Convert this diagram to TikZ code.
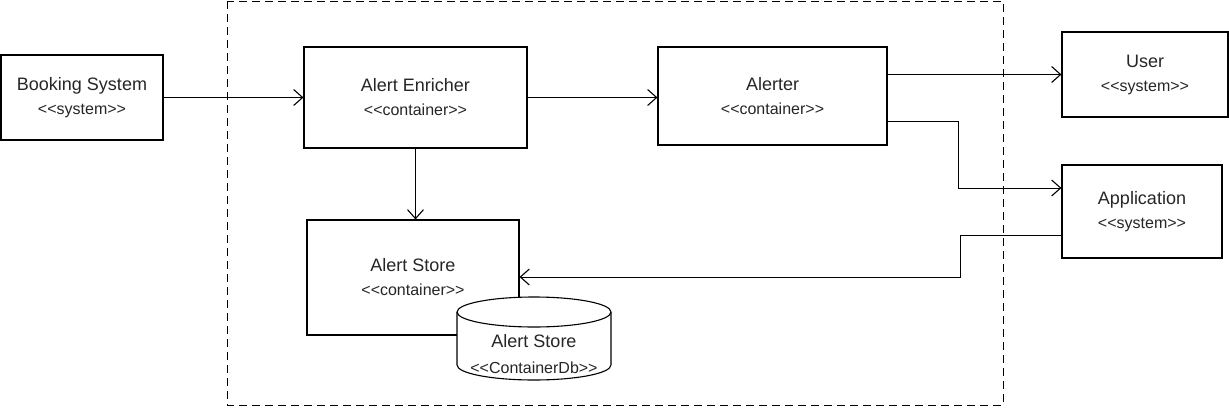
\documentclass[tikz,border=0pt]{standalone}
\usepackage{fontspec}
\setmainfont{Liberation Sans}
\usetikzlibrary{arrows.meta}
\newcommand{\stereo}[1]{{\fontsize{16}{24}\selectfont <\kern0pt<#1>\kern0pt>}}
\begin{document}
\begin{tikzpicture}[x=1pt,y=-1pt,
  box/.style={draw=black, line width=1.1pt, fill=white, rectangle, align=center, inner sep=0pt,
    font=\fontsize{18}{24}\selectfont, text=black!85},
  arr/.style={draw=black, line width=1pt, -{Straight Barb[length=9pt,width=16pt,line width=1.1pt]}},
  boundary/.style={draw=black, line width=0.9pt, dash pattern=on 8pt off 5pt}]
\useasboundingbox (0,0) rectangle (1229,407);
\draw[boundary] (227,1) rectangle (1003,405);
\node[box, minimum width=162pt, minimum height=85pt] (bs) at (82,97.5) {Booking System\\\stereo{system}};
\node[box, minimum width=223pt, minimum height=101pt] (ae) at (415.5,97.5) {Alert Enricher\\\stereo{container}};
\node[box, minimum width=229pt, minimum height=98pt] (al) at (772.5,96) {Alerter\\\stereo{container}};
\node[box, minimum width=166pt, minimum height=85pt] (us) at (1145,74.5) {User\\\stereo{system}};
\node[box, minimum width=160pt, minimum height=93pt] (ap) at (1142,211.5) {Application\\\stereo{system}};
\node[box, minimum width=212pt, minimum height=115pt] (as) at (413,277.5) {Alert Store\\\stereo{container}};
% database cylinder
\path[draw=black, line width=1.1pt, fill=white] (457,312) -- (457,365)
  arc[start angle=180, end angle=360, x radius=77pt, y radius=15pt] -- (611,312)
  arc[start angle=0, end angle=180, x radius=77pt, y radius=15pt] -- cycle;
\draw[line width=1.1pt] (611,312) arc[start angle=0, end angle=-180, x radius=77pt, y radius=15pt];
\node[align=center, inner sep=0pt, font=\fontsize{18}{26}\selectfont, text=black!85] (db) at (534,354) {Alert Store\\\stereo{ContainerDb}};
% connectors
\draw[arr] (bs.east) -- (ae.west);
\draw[arr] (ae.east) -- (ae.east -| al.west);
\draw[arr] (us.west -| al.east) -- (us.west);
\coordinate (k1) at (958,121);
\coordinate (k2) at (958,188);
\draw[arr] (al.east |- k1) -- (k1) -- (k2) -- (k2 -| ap.west);
\draw[arr] (ae.south) -- (ae.south |- as.north);
\coordinate (k3) at (960,235);
\coordinate (k4) at (960,277);
\draw[arr] (k3 -| ap.west) -- (k3) -- (k4) -- (k4 -| as.east);
\end{tikzpicture}
\end{document}
